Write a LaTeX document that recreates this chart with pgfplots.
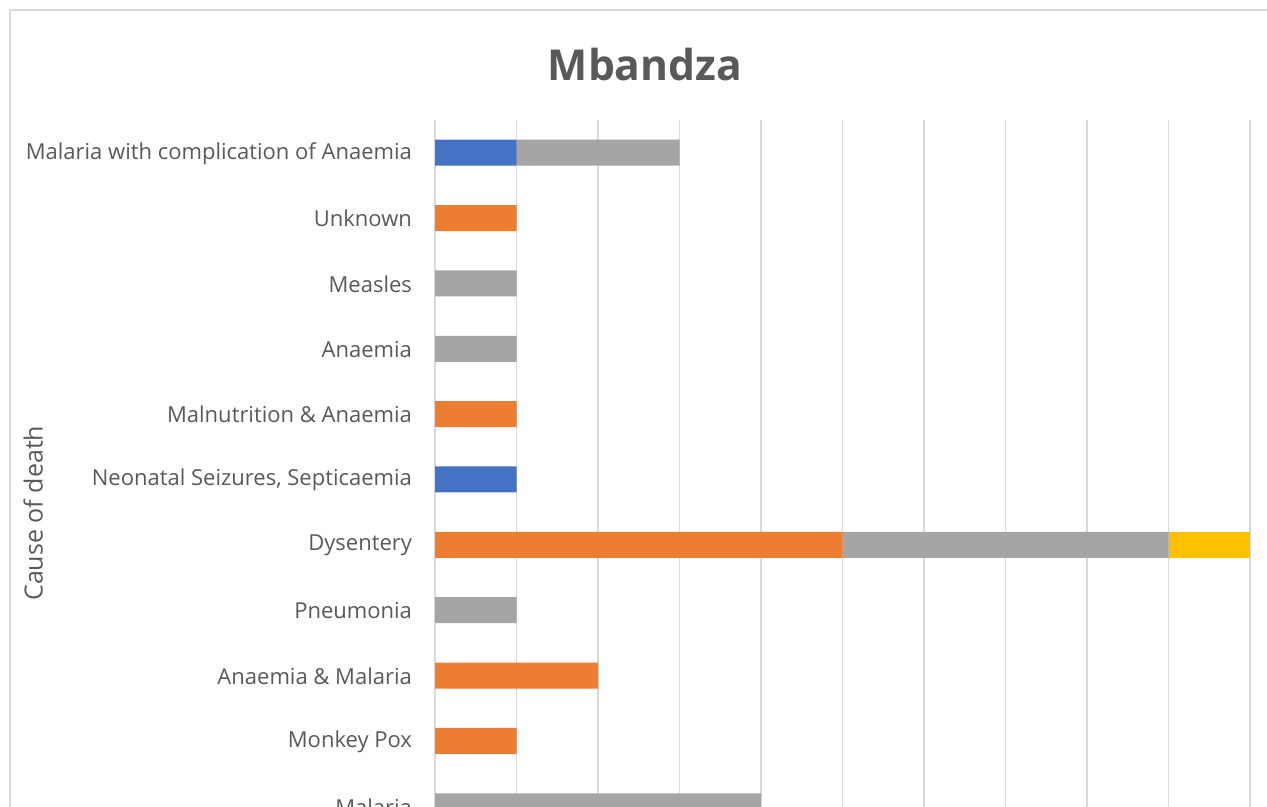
\documentclass[border=0pt]{standalone}
\usepackage{pgfplots}
\pgfplotsset{compat=1.18}
\usepackage{fontspec}
\setmainfont{Open Sans}
\definecolor{xblue}{HTML}{4472C4}
\definecolor{xorange}{HTML}{ED7D31}
\definecolor{xgray}{HTML}{A5A5A5}
\definecolor{xyellow}{HTML}{FFC000}
\definecolor{txt}{HTML}{595959}
\definecolor{gridc}{HTML}{D9D9D9}
\begin{document}
\begin{tikzpicture}
% 1 px of the reference = 0.5pt, origin at bottom-left
\path[use as bounding box] (0pt,0pt) rectangle (633.5pt,403.5pt);
\clip (0pt,0pt) rectangle (633.5pt,403.5pt);
\draw[gridc, line width=0.8pt] (5pt,-15pt) -- (5pt,398.5pt) -- (650pt,398.5pt);
\node[txt, font=\fontsize{21.3}{24}\selectfont\bfseries] at (322.5pt,371pt) {Mbandza};
\begin{axis}[
    at={(217.5pt,-16pt)}, anchor=south west,
    scale only axis,
    width=407.5pt, height=359.5pt,
    xbar stacked,
    bar width=13pt,
    xmin=0, xmax=10,
    ymin=-0.5, ymax=10.5,
    xtick={0,...,10},
    xticklabels={},
    xmajorgrids=true,
    ymajorgrids=false,
    major grid style={draw=gridc, line width=0.8pt},
    ytick={0,...,10},
    yticklabels={Malaria, Monkey Pox, Anaemia \& Malaria, Pneumonia, Dysentery,
        {Neonatal Seizures, Septicaemia}, Malnutrition \& Anaemia, Anaemia,
        Measles, Unknown, Malaria with complication of Anaemia},
    y tick label style={font=\fontsize{11}{13}\selectfont, text=txt},
    yticklabel style={xshift=-8pt, yshift=-0.3pt},
    major tick length=0pt,
    axis line style={draw=none},
    ylabel={Cause of death},
    every axis y label/.style={at={(axis description cs:-0.493,0.453)}, rotate=90,
        anchor=center, font=\fontsize{12.5}{14}\selectfont, text=txt},
]
\addplot[fill=xblue, draw=none] coordinates {
    (0,0) (0,1) (0,2) (0,3) (0,4) (1,5) (0,6) (0,7) (0,8) (0,9) (1,10)};
\addplot[fill=xorange, draw=none] coordinates {
    (0,0) (1,1) (2,2) (0,3) (5,4) (0,5) (1,6) (0,7) (0,8) (1,9) (0,10)};
\addplot[fill=xgray, draw=none] coordinates {
    (4,0) (0,1) (0,2) (1,3) (4,4) (0,5) (0,6) (1,7) (1,8) (0,9) (2,10)};
\addplot[fill=xyellow, draw=none] coordinates {
    (0,0) (0,1) (0,2) (0,3) (1,4) (0,5) (0,6) (0,7) (0,8) (0,9) (0,10)};
\end{axis}
\end{tikzpicture}
\end{document}
